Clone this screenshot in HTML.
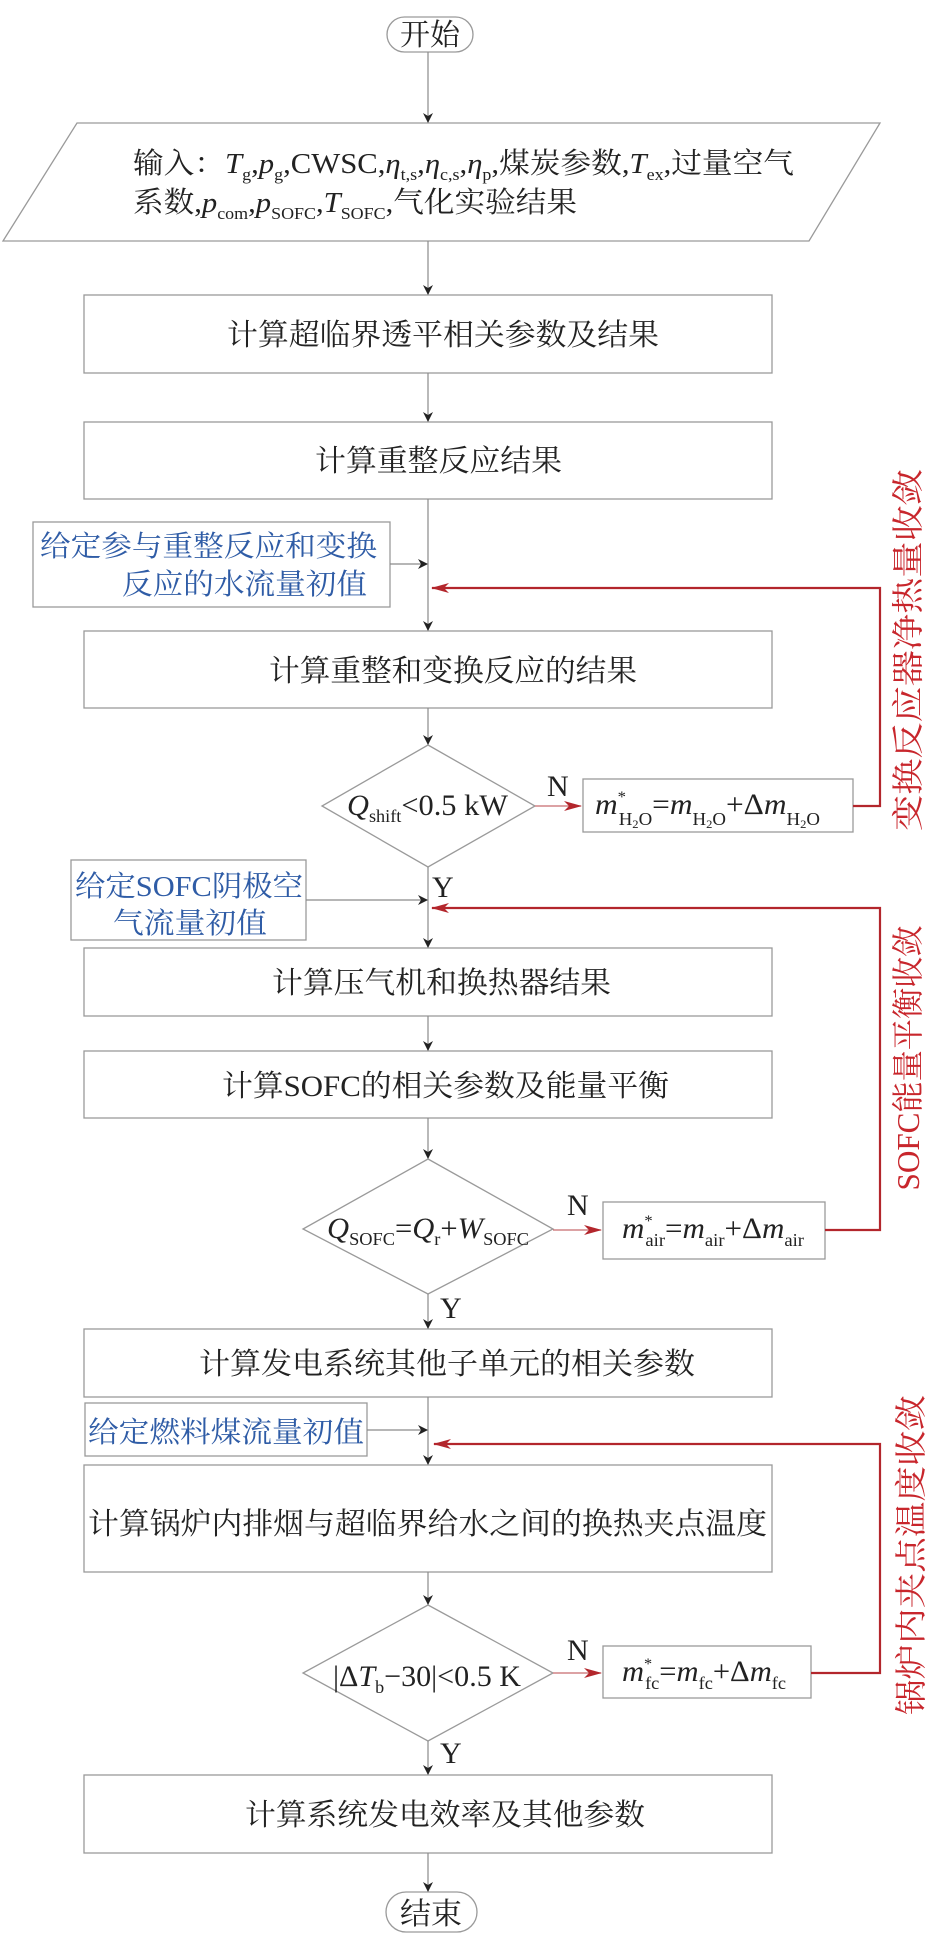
<!DOCTYPE html>
<html><head><meta charset="utf-8"><style>
html,body{margin:0;padding:0;background:#fff}
svg{display:block}
text{font-family:"Liberation Serif","Noto Serif CJK SC",serif;fill:#222}
.b{fill:#2f5ca6}
.r{fill:#c8262c}
.i{font-style:italic}
</style></head><body>
<svg width="947" height="1956" viewBox="0 0 947 1956" xmlns="http://www.w3.org/2000/svg">
<defs>
<marker id="ak" markerWidth="10" markerHeight="18" refX="9" refY="5" orient="auto" markerUnits="userSpaceOnUse">
<path d="M0,0 L10,5 L0,10 L3,5 z" fill="#222"/></marker>
<marker id="ar" markerWidth="18" markerHeight="10" refX="17" refY="5" orient="auto" markerUnits="userSpaceOnUse">
<path d="M0,0 L18,5 L0,10 L5,5 z" fill="#b3262c"/></marker>
</defs>
<g fill="#fff" stroke="#9a9a9a" stroke-width="1.3">
<rect x="387" y="17" width="86" height="35" rx="17.5"/>
<polygon points="77,123 880,123 809,241 3,241"/>
<rect x="84" y="295" width="688" height="78"/>
<rect x="84" y="422" width="688" height="77"/>
<rect x="33" y="522" width="357" height="85"/>
<rect x="84" y="631" width="688" height="77"/>
<polygon points="428,745 535,806 428,867 322,806"/>
<rect x="583" y="779" width="270" height="53"/>
<rect x="71" y="860" width="235" height="80"/>
<rect x="84" y="948" width="688" height="68"/>
<rect x="84" y="1051" width="688" height="67"/>
<polygon points="428,1159 553,1229 428,1294 303,1229"/>
<rect x="603" y="1202" width="222" height="57"/>
<rect x="84" y="1329" width="688" height="68"/>
<rect x="85" y="1403" width="282" height="53"/>
<rect x="84" y="1465" width="688" height="107"/>
<polygon points="428,1605 553,1673 428,1741 303,1673"/>
<rect x="603" y="1646" width="208" height="52"/>
<rect x="84" y="1775" width="688" height="78"/>
<rect x="386" y="1892" width="91" height="40" rx="20"/>
</g>
<g stroke="#8a8a8a" stroke-width="1.2" fill="none" marker-end="url(#ak)">
<line x1="428" y1="52" x2="428" y2="122"/>
<line x1="428" y1="241" x2="428" y2="294"/>
<line x1="428" y1="373" x2="428" y2="421"/>
<line x1="428" y1="499" x2="428" y2="630"/>
<line x1="428" y1="708" x2="428" y2="744"/>
<line x1="428" y1="867" x2="428" y2="947"/>
<line x1="428" y1="1016" x2="428" y2="1050"/>
<line x1="428" y1="1118" x2="428" y2="1158"/>
<line x1="428" y1="1294" x2="428" y2="1328"/>
<line x1="428" y1="1397" x2="428" y2="1464"/>
<line x1="428" y1="1572" x2="428" y2="1604"/>
<line x1="428" y1="1741" x2="428" y2="1774"/>
<line x1="428" y1="1853" x2="428" y2="1891"/>
<line x1="390" y1="564" x2="427" y2="564"/>
<line x1="306" y1="900" x2="427" y2="900"/>
<line x1="367" y1="1430" x2="427" y2="1430"/>
</g>
<g stroke="#b3262c" stroke-width="2.2" fill="none">
<polyline points="853,806 880,806 880,588 432,588" marker-end="url(#ar)"/>
<polyline points="825,1230 880,1230 880,908 432,908" marker-end="url(#ar)"/>
<polyline points="811,1673 880,1673 880,1444 434,1444" marker-end="url(#ar)"/>
</g>
<g stroke="#c86a6e" stroke-width="1.3" fill="none">
<line x1="535" y1="806" x2="581" y2="806" marker-end="url(#ar)"/>
<line x1="553" y1="1230" x2="601" y2="1230" marker-end="url(#ar)"/>
<line x1="553" y1="1673" x2="601" y2="1673" marker-end="url(#ar)"/>
</g>

<text x="400" y="45" font-size="30" textLength="60" lengthAdjust="spacingAndGlyphs">开始</text>
<text x="400" y="1924" font-size="30" textLength="62" lengthAdjust="spacingAndGlyphs">结束</text>

<text x="133" y="173" font-size="29" textLength="661" lengthAdjust="spacingAndGlyphs">输入：<tspan class="i">T</tspan><tspan font-size="17" dy="7">g</tspan><tspan dy="-7">,</tspan><tspan class="i">p</tspan><tspan font-size="17" dy="7">g</tspan><tspan dy="-7">,CWSC,</tspan><tspan class="i">η</tspan><tspan font-size="17" dy="7">t,s</tspan><tspan dy="-7">,</tspan><tspan class="i">η</tspan><tspan font-size="17" dy="7">c,s</tspan><tspan dy="-7">,</tspan><tspan class="i">η</tspan><tspan font-size="17" dy="7">p</tspan><tspan dy="-7">,煤炭参数,</tspan><tspan class="i">T</tspan><tspan font-size="17" dy="7">ex</tspan><tspan dy="-7">,过量空气</tspan></text>
<text x="133" y="212" font-size="29" textLength="444" lengthAdjust="spacingAndGlyphs">系数,<tspan class="i">p</tspan><tspan font-size="17" dy="7">com</tspan><tspan dy="-7">,</tspan><tspan class="i">p</tspan><tspan font-size="17" dy="7">SOFC</tspan><tspan dy="-7">,</tspan><tspan class="i">T</tspan><tspan font-size="17" dy="7">SOFC</tspan><tspan dy="-7">,气化实验结果</tspan></text>

<g font-size="30">
<text x="227" y="345" textLength="432" lengthAdjust="spacingAndGlyphs">计算超临界透平相关参数及结果</text>
<text x="315" y="471" textLength="247" lengthAdjust="spacingAndGlyphs">计算重整反应结果</text>
<text x="269" y="681" textLength="368" lengthAdjust="spacingAndGlyphs">计算重整和变换反应的结果</text>
<text x="272" y="993" textLength="339" lengthAdjust="spacingAndGlyphs">计算压气机和换热器结果</text>
<text x="222" y="1096" textLength="447" lengthAdjust="spacingAndGlyphs">计算SOFC的相关参数及能量平衡</text>
<text x="199" y="1374" textLength="496" lengthAdjust="spacingAndGlyphs">计算发电系统其他子单元的相关参数</text>
<text x="88" y="1534" textLength="679" lengthAdjust="spacingAndGlyphs">计算锅炉内排烟与超临界给水之间的换热夹点温度</text>
<text x="245" y="1825" textLength="400" lengthAdjust="spacingAndGlyphs">计算系统发电效率及其他参数</text>
</g>

<g font-size="29" class="b">
<text class="b" x="40" y="556" textLength="337" lengthAdjust="spacingAndGlyphs">给定参与重整反应和变换</text>
<text class="b" x="122" y="594" textLength="245" lengthAdjust="spacingAndGlyphs">反应的水流量初值</text>
<text class="b" x="75" y="896" textLength="228" lengthAdjust="spacingAndGlyphs">给定SOFC阴极空</text>
<text class="b" x="113" y="933" textLength="154" lengthAdjust="spacingAndGlyphs">气流量初值</text>
<text class="b" x="88" y="1442" textLength="276" lengthAdjust="spacingAndGlyphs">给定燃料煤流量初值</text>
</g>

<g font-size="30">
<text x="347" y="815" textLength="161" lengthAdjust="spacingAndGlyphs"><tspan class="i">Q</tspan><tspan font-size="18" dy="7">shift</tspan><tspan dy="-7">&lt;0.5 kW</tspan></text>
<text x="327" y="1238" textLength="202" lengthAdjust="spacingAndGlyphs"><tspan class="i">Q</tspan><tspan font-size="18" dy="7">SOFC</tspan><tspan dy="-7">=</tspan><tspan class="i">Q</tspan><tspan font-size="18" dy="7">r</tspan><tspan dy="-7">+</tspan><tspan class="i">W</tspan><tspan font-size="18" dy="7">SOFC</tspan></text>
<text x="333" y="1686" textLength="188" lengthAdjust="spacingAndGlyphs">|Δ<tspan class="i">T</tspan><tspan font-size="18" dy="7">b</tspan><tspan dy="-7">−30|&lt;0.5 K</tspan></text>

<text x="595" y="814" textLength="225" lengthAdjust="spacingAndGlyphs"><tspan class="i">m</tspan><tspan font-size="16" dy="-12">*</tspan><tspan font-size="18" dx="-7" dy="23">H</tspan><tspan font-size="12" dy="3">2</tspan><tspan font-size="18" dy="-3">O</tspan><tspan dy="-11">=</tspan><tspan class="i">m</tspan><tspan font-size="18" dy="11">H</tspan><tspan font-size="12" dy="3">2</tspan><tspan font-size="18" dy="-3">O</tspan><tspan dy="-11">+Δ</tspan><tspan class="i">m</tspan><tspan font-size="18" dy="11">H</tspan><tspan font-size="12" dy="3">2</tspan><tspan font-size="18" dy="-3">O</tspan></text>
<text x="622" y="1238" textLength="182" lengthAdjust="spacingAndGlyphs"><tspan class="i">m</tspan><tspan font-size="16" dy="-12">*</tspan><tspan font-size="18" dx="-7" dy="20">air</tspan><tspan dy="-8">=</tspan><tspan class="i">m</tspan><tspan font-size="18" dy="8">air</tspan><tspan dy="-8">+Δ</tspan><tspan class="i">m</tspan><tspan font-size="18" dy="8">air</tspan></text>
<text x="622" y="1681" textLength="164" lengthAdjust="spacingAndGlyphs"><tspan class="i">m</tspan><tspan font-size="16" dy="-12">*</tspan><tspan font-size="18" dx="-7" dy="20">fc</tspan><tspan dy="-8">=</tspan><tspan class="i">m</tspan><tspan font-size="18" dy="8">fc</tspan><tspan dy="-8">+Δ</tspan><tspan class="i">m</tspan><tspan font-size="18" dy="8">fc</tspan></text>

<text x="547" y="796">N</text>
<text x="567" y="1215">N</text>
<text x="567" y="1660">N</text>
<text x="432" y="897">Y</text>
<text x="440" y="1318">Y</text>
<text x="440" y="1763">Y</text>
</g>

<g font-size="32">
<text class="r" x="0" y="0" text-anchor="middle" transform="translate(919,650) rotate(-90)" textLength="362" lengthAdjust="spacingAndGlyphs">变换反应器净热量收敛</text>
<text class="r" x="0" y="0" text-anchor="middle" transform="translate(919,1058) rotate(-90)" textLength="265" lengthAdjust="spacingAndGlyphs">SOFC能量平衡收敛</text>
<text class="r" x="0" y="0" text-anchor="middle" transform="translate(922,1555) rotate(-90)" textLength="320" lengthAdjust="spacingAndGlyphs">锅炉内夹点温度收敛</text>
</g>
</svg>
</body></html>
